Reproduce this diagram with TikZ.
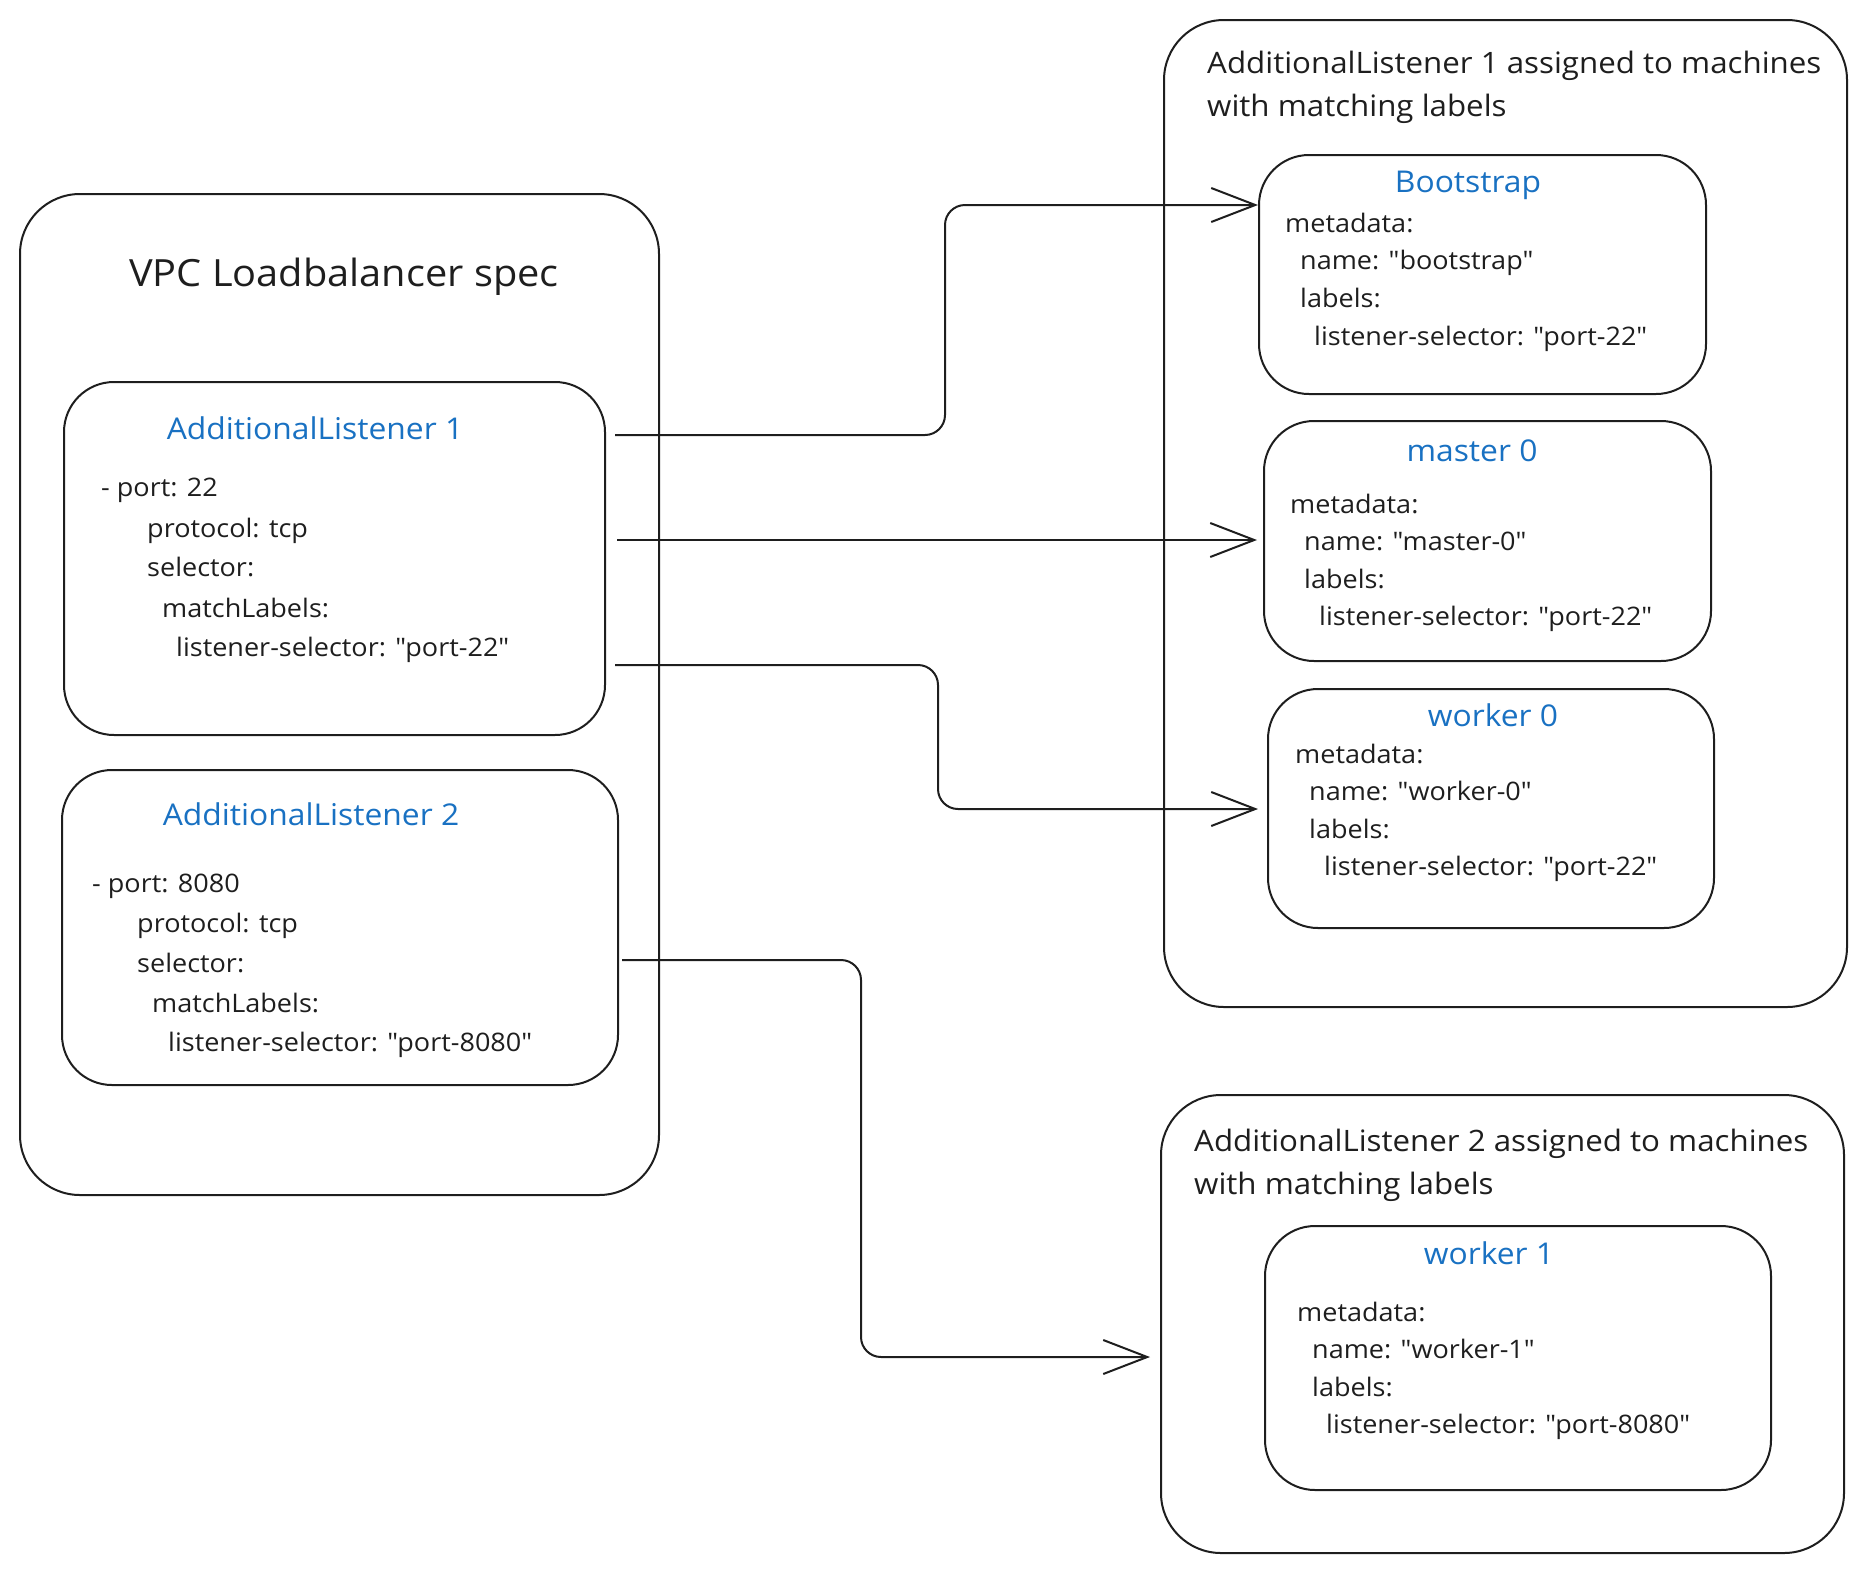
\documentclass[tikz,border=0pt]{standalone}
\usepackage{fontspec}
\setmainfont{Open Sans}[Ligatures=TeXOff, FakeStretch=1.06]
\usetikzlibrary{arrows.meta}
\definecolor{ink}{HTML}{1E1E1E}
\definecolor{bluet}{HTML}{1971C2}
\tikzset{
  box/.style={draw=ink, line width=2pt, rounded corners=#1, inner sep=0pt},
  box/.default=50pt,
  body/.style={anchor=base west, inner sep=0pt, text=ink, font=\fontsize{25.5}{30}\selectfont},
  ttl/.style={anchor=base, inner sep=0pt, text=bluet, font=\fontsize{30}{34}\selectfont},
  grp/.style={anchor=base west, inner sep=0pt, text=ink, font=\fontsize{29.5}{34}\selectfont},
  conn/.style={draw=ink, line width=2pt, rounded corners=20pt, -{Straight Barb[length=44pt,width=34pt,line width=2pt]}},
}
\begin{document}
\begin{tikzpicture}[x=1pt,y=-1pt]
\useasboundingbox (0,0) rectangle (1868,1574);
% left container
\node[box=60pt, minimum width=639pt, minimum height=1001pt] (vpc) at (339.5,694.5) {};
\node[anchor=base, inner sep=0pt, text=ink, font=\fontsize{37.5}{44}\selectfont] (vpct) at (344,286) {VPC Loadbalancer spec};
\node[box, minimum width=541pt, minimum height=353pt] (al1) at (334.5,558.5) {};
\node[box, minimum width=556pt, minimum height=315pt] (al2) at (340,927.5) {};
\node[ttl] (al1t) at (315,439) {AdditionalListener 1};
\node[body] (al1a) at (101,496) {- port: 22};
\node[body] (al1b) at (147,537) {protocol: tcp};
\node[body] (al1c) at (147,576) {selector:};
\node[body] (al1d) at (162,617) {matchLabels:};
\node[body] (al1e) at (176,656) {listener-selector: "port-22"};
\node[ttl] (al2t) at (311,825) {AdditionalListener 2};
\node[body] (al2a) at (92,892) {- port: 8080};
\node[body] (al2b) at (137,932) {protocol: tcp};
\node[body] (al2c) at (137,972) {selector:};
\node[body] (al2d) at (152,1012) {matchLabels:};
\node[body] (al2e) at (168,1051) {listener-selector: "port-8080"};
% right group 1
\node[box=60pt, minimum width=683pt, minimum height=987pt] (g1) at (1505.5,513.5) {};
\node[grp] (g1a) at (1207,73) {AdditionalListener 1 assigned to machines};
\node[grp] (g1b) at (1207,116) {with matching labels};
\node[box, minimum width=447pt, minimum height=239pt] (boot) at (1482.5,274.5) {};
\node[ttl] (boott) at (1468,192) {Bootstrap};
\node[body] (boota) at (1285,232) {metadata:};
\node[body] (bootb) at (1300,269) {name: "bootstrap"};
\node[body] (bootc) at (1300,307) {labels:};
\node[body] (bootd) at (1314,345) {listener-selector: "port-22"};
\node[box, minimum width=447pt, minimum height=240pt] (m0) at (1487.5,541) {};
\node[ttl] (m0t) at (1472,461) {master 0};
\node[body] (m0a) at (1290,513) {metadata:};
\node[body] (m0b) at (1304,550) {name: "master-0"};
\node[body] (m0c) at (1304,588) {labels:};
\node[body] (m0d) at (1319,625) {listener-selector: "port-22"};
\node[box, minimum width=446pt, minimum height=239pt] (w0) at (1491,808.5) {};
\node[ttl] (w0t) at (1493,726) {worker 0};
\node[body] (w0a) at (1295,763) {metadata:};
\node[body] (w0b) at (1309,800) {name: "worker-0"};
\node[body] (w0c) at (1309,838) {labels:};
\node[body] (w0d) at (1324,875) {listener-selector: "port-22"};
% right group 2
\node[box=60pt, minimum width=683pt, minimum height=458pt] (g2) at (1502.5,1324) {};
\node[grp] (g2a) at (1194,1151) {AdditionalListener 2 assigned to machines};
\node[grp] (g2b) at (1194,1194) {with matching labels};
\node[box, minimum width=506pt, minimum height=264pt] (w1) at (1518,1358) {};
\node[ttl] (w1t) at (1489,1264) {worker 1};
\node[body] (w1a) at (1297,1321) {metadata:};
\node[body] (w1b) at (1312,1358) {name: "worker-1"};
\node[body] (w1c) at (1312,1396) {labels:};
\node[body] (w1d) at (1326,1433) {listener-selector: "port-8080"};
% connectors
\coordinate (s1) at ([xshift=9pt]al1.east |- 0,435);
\coordinate (s2) at ([xshift=11pt]al1.east |- 0,540);
\coordinate (s3) at ([xshift=9pt]al1.east |- 0,665);
\coordinate (s4) at ([xshift=3pt]al2.east |- 0,960);
\draw[conn] (s1) -- (945,435) -- (945,205) -- (boot.west |- 0,205);
\draw[conn] (s2) -- ([xshift=-6pt]m0.west |- 0,540);
\draw[conn] (s3) -- (938,665) -- (938,809) -- ([xshift=-9pt]w0.west |- 0,809);
\draw[conn] (s4) -- (861,960) -- (861,1357) -- ([xshift=-10pt]g2.west |- 0,1357);
\end{tikzpicture}
\end{document}
